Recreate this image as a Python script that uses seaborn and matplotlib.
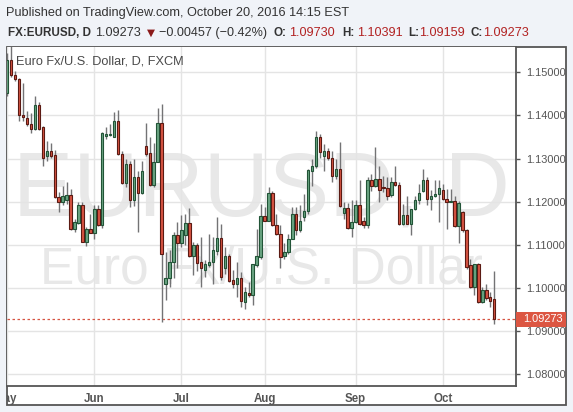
import numpy as np
import pandas as pd
import matplotlib
matplotlib.use("Agg")
import matplotlib.pyplot as plt
import matplotlib.transforms as mtransforms
from matplotlib.patches import Rectangle
import seaborn as sns

# daily EUR/USD candles (May 2 - Oct 20, 2016)
opens = [1.1453, 1.1528, 1.1493, 1.1484, 1.1400, 1.1393, 1.1380, 1.1368, 1.1424, 1.1373,
         1.1305, 1.1317, 1.1308, 1.1210, 1.1199, 1.1203, 1.1216, 1.1136, 1.1150, 1.1191,
         1.1106, 1.1136, 1.1128, 1.1183, 1.1146, 1.1353, 1.1355, 1.1351, 1.1387, 1.1310,
         1.1243, 1.1287, 1.1203, 1.1258, 1.1220, 1.1330, 1.1312, 1.1239, 1.1293, 1.1383,
         1.1008, 1.1022, 1.1060, 1.1122, 1.1104, 1.1123, 1.1151, 1.1073, 1.1099, 1.1060,
         1.1042, 1.1054, 1.1059, 1.1085, 1.1115, 1.1046, 1.1073, 1.1018, 1.1010, 1.1022,
         1.0968, 1.0989, 1.0984, 1.1052, 1.1072, 1.1167, 1.1156, 1.1220, 1.1146, 1.1126,
         1.1073, 1.1083, 1.1114, 1.1172, 1.1135, 1.1164, 1.1179, 1.1271, 1.1283, 1.1350,
         1.1305, 1.1318, 1.1301, 1.1260, 1.1276, 1.1174, 1.1186, 1.1139, 1.1152, 1.1193,
         1.1154, 1.1145, 1.1250, 1.1236, 1.1253, 1.1233, 1.1232, 1.1216, 1.1245, 1.1239,
         1.1149, 1.1170, 1.1149, 1.1183, 1.1203, 1.1224, 1.1250, 1.1206, 1.1212, 1.1218,
         1.1226, 1.1206, 1.1200, 1.1202, 1.1143, 1.1177, 1.1133, 1.1052, 1.1002, 1.1055,
         1.0966, 1.0996, 1.0978, 1.0973]
highs = [1.1545, 1.1600, 1.1503, 1.1487, 1.1476, 1.1410, 1.1406, 1.1445, 1.1430, 1.1376,
         1.1341, 1.1335, 1.1320, 1.1222, 1.1237, 1.1245, 1.1229, 1.1159, 1.1199, 1.1199,
         1.1141, 1.1172, 1.1191, 1.1191, 1.1362, 1.1372, 1.1380, 1.1409, 1.1413, 1.1318,
         1.1299, 1.1295, 1.1299, 1.1272, 1.1295, 1.1382, 1.1349, 1.1337, 1.1418, 1.1427,
         1.1083, 1.1087, 1.1129, 1.1152, 1.1168, 1.1172, 1.1186, 1.1106, 1.1103, 1.1119,
         1.1064, 1.1124, 1.1118, 1.1164, 1.1149, 1.1095, 1.1079, 1.1041, 1.1060, 1.1037,
         1.1002, 1.1014, 1.1056, 1.1137, 1.1195, 1.1187, 1.1233, 1.1225, 1.1172, 1.1145,
         1.1103, 1.1126, 1.1187, 1.1187, 1.1191, 1.1218, 1.1275, 1.1299, 1.1364, 1.1356,
         1.1333, 1.1325, 1.1318, 1.1299, 1.1339, 1.1199, 1.1197, 1.1203, 1.1203, 1.1250,
         1.1164, 1.1258, 1.1264, 1.1326, 1.1283, 1.1260, 1.1256, 1.1258, 1.1283, 1.1245,
         1.1195, 1.1212, 1.1184, 1.1212, 1.1241, 1.1276, 1.1256, 1.1226, 1.1249, 1.1249,
         1.1241, 1.1230, 1.1230, 1.1214, 1.1202, 1.1179, 1.1136, 1.1068, 1.1055, 1.1058,
         1.1002, 1.1010, 1.0991, 1.10391]
lows = [1.1445, 1.1490, 1.1480, 1.1387, 1.1387, 1.1376, 1.1359, 1.1366, 1.1366, 1.1283,
        1.1295, 1.1302, 1.1208, 1.1177, 1.1191, 1.1195, 1.1133, 1.1129, 1.1148, 1.1106,
        1.1098, 1.1127, 1.1114, 1.1143, 1.1138, 1.1345, 1.1353, 1.1351, 1.1309, 1.1241,
        1.1233, 1.1187, 1.1190, 1.1129, 1.1218, 1.1306, 1.1237, 1.1233, 1.1291, 1.0921,
        1.0972, 1.1002, 1.1022, 1.1045, 1.1095, 1.1099, 1.1072, 1.1029, 1.1040, 1.1002,
        1.1025, 1.1049, 1.1010, 1.1076, 1.1018, 1.1033, 1.1014, 1.0999, 1.0979, 1.0956,
        1.0952, 1.0979, 1.0960, 1.1048, 1.1068, 1.1156, 1.1155, 1.1144, 1.1122, 1.1045,
        1.1068, 1.1079, 1.1114, 1.1123, 1.1129, 1.1156, 1.1172, 1.1237, 1.1279, 1.1302,
        1.1272, 1.1297, 1.1245, 1.1253, 1.1187, 1.1160, 1.1137, 1.1118, 1.1150, 1.1145,
        1.1138, 1.1138, 1.1225, 1.1233, 1.1199, 1.1222, 1.1203, 1.1210, 1.1237, 1.1145,
        1.1145, 1.1147, 1.1122, 1.1181, 1.1195, 1.1222, 1.1191, 1.1180, 1.1210, 1.1152,
        1.1203, 1.1137, 1.1198, 1.1141, 1.1104, 1.1130, 1.1044, 1.1000, 1.0983, 1.0964,
        1.0964, 1.0972, 1.0956, 1.09159]
closes = [1.1528, 1.1493, 1.1484, 1.1400, 1.1396, 1.1379, 1.1368, 1.1424, 1.1368, 1.1301,
          1.1317, 1.1306, 1.1210, 1.1199, 1.1214, 1.1216, 1.1136, 1.1152, 1.1191, 1.1106,
          1.1136, 1.1128, 1.1183, 1.1145, 1.1359, 1.1358, 1.1357, 1.1387, 1.1310, 1.1243,
          1.1287, 1.1203, 1.1258, 1.1220, 1.1272, 1.1310, 1.1239, 1.1293, 1.1383, 1.1079,
          1.1022, 1.1060, 1.1122, 1.1104, 1.1133, 1.1151, 1.1073, 1.1099, 1.1058, 1.1045,
          1.1055, 1.1059, 1.1087, 1.1115, 1.1025, 1.1073, 1.1016, 1.1010, 1.1022, 1.0970,
          1.0991, 1.0984, 1.1055, 1.1073, 1.1166, 1.1156, 1.1220, 1.1146, 1.1126, 1.1072,
          1.1083, 1.1114, 1.1172, 1.1135, 1.1156, 1.1179, 1.1273, 1.1283, 1.1350, 1.1316,
          1.1318, 1.1301, 1.1260, 1.1276, 1.1189, 1.1186, 1.1139, 1.1152, 1.1193, 1.1149,
          1.1145, 1.1250, 1.1237, 1.1253, 1.1227, 1.1231, 1.1214, 1.1245, 1.1239, 1.1147,
          1.1170, 1.1149, 1.1183, 1.1204, 1.1220, 1.1250, 1.1206, 1.1214, 1.1218, 1.1232,
          1.1206, 1.1200, 1.1202, 1.1143, 1.1196, 1.1133, 1.1048, 1.1002, 1.1055, 1.0968,
          1.0996, 1.0977, 1.0970, 1.09273]

month_labels = ["May", "Jun", "Jul", "Aug", "Sep", "Oct"]
price_ticks = [1.08, 1.09, 1.10, 1.11, 1.12, 1.13, 1.14, 1.15]
last_price = 1.09273

df = pd.DataFrame({"date": pd.bdate_range("2016-05-02", "2016-10-20"),
                   "open": opens, "high": highs, "low": lows, "close": closes})
df["i"] = np.arange(len(df))
df["up"] = df["close"] >= df["open"]
df["bottom"] = df[["open", "close"]].min(axis=1)
df["height"] = (df["open"] - df["close"]).abs().clip(lower=0.00008)
month_pos = df.groupby(df["date"].dt.month)["i"].min().tolist()

sns.set_style("white")
plt.rcParams["font.family"] = ["Liberation Sans", "DejaVu Sans"]

W, H = 573, 412
def fx(px):
    return px / W
def fy(py):
    return 1 - py / H

fig = plt.figure(figsize=(5.73, 4.12), dpi=100, facecolor="#f0f3f8")

# white chart panel with its border (behind the axes)
fig.patches.append(Rectangle((fx(6.5), fy(405)), fx(566) - fx(6.5), fy(47) - fy(405),
                             transform=fig.transFigure, facecolor="white",
                             edgecolor="#555555", lw=1.3, zorder=-5))

ax = fig.add_axes([fx(6.7), fy(386), fx(516) - fx(6.7), fy(47) - fy(386)])
ax.set_zorder(2)
ax.set_facecolor("white")

# watermark
ax.text(0.5, 0.504, "EURUSD, D", transform=ax.transAxes, ha="center", va="baseline",
        fontsize=65, color="#e8e8e8", zorder=0.2)
ax.text(0.5, 0.303, "Euro Fx/U.S. Dollar", transform=ax.transAxes, ha="center",
        va="baseline", fontsize=37, color="#e8e8e8", zorder=0.2)

up = df[df["up"]]
dn = df[~df["up"]]
ax.vlines(df["i"], df["low"], df["high"], color="#737375", lw=1, zorder=2)
ax.bar(up["i"], up["height"], bottom=up["bottom"], width=0.62, color="#6ba583",
       edgecolor="#225437", lw=0.8, zorder=3)
ax.bar(dn["i"], dn["height"], bottom=dn["bottom"], width=0.62, color="#d75442",
       edgecolor="#5b1a13", lw=0.8, zorder=3)

ax.axhline(last_price, color="#d75442", lw=0.9, ls=(0, (2, 2)), zorder=1.5)

ax.set_xlim(-0.13, 128.5)
ax.set_ylim(1.07722, 1.15587)
ax.set_axisbelow(True)
ax.grid(True, color="#e4e4e4", lw=1)

ax.set_xticks(month_pos)
ax.set_xticklabels(month_labels)
ax.set_yticks(price_ticks)
ax.set_yticklabels([f"{p:.5f}" for p in price_ticks])
ax.yaxis.tick_right()
ax.tick_params(axis="x", length=3, width=1, color="#555555", labelsize=8.3,
               labelcolor="#555555", pad=2)
ax.tick_params(axis="y", length=3, width=1, color="#555555", labelsize=7.9,
               labelcolor="#555555", pad=4)
xlabs = ax.get_xticklabels()
for lab in xlabs:
    lab.set_fontweight("bold")
# the first month label is cut by the panel's left border
xlabs[0].set_transform(xlabs[0].get_transform() +
                       mtransforms.ScaledTranslation(-1.5 / 100, 0, fig.dpi_scale_trans))
xlabs[0].set_clip_on(True)
xlabs[0].set_clip_box(mtransforms.TransformedBbox(
    mtransforms.Bbox([[fx(7.2), 0], [1, 1]]), fig.transFigure))
for side in ["top", "left"]:
    ax.spines[side].set_visible(False)
for side in ["bottom", "right"]:
    ax.spines[side].set_color("#555555")
    ax.spines[side].set_linewidth(1.3)

# last price tag on the price scale
tr = mtransforms.blended_transform_factory(ax.transAxes, ax.transData)
tag_h = 0.0035
ax.add_patch(Rectangle((1.0, last_price - tag_h / 2), (566 - 516) / (516 - 6.7), tag_h,
                       transform=tr, facecolor="#dc5642", edgecolor="none",
                       clip_on=False, zorder=5))
ax.text(1.0 + 7 / (516 - 6.7), last_price, f"{last_price:.5f}", transform=tr,
        ha="left", va="center", fontsize=7.9, color="white", clip_on=False, zorder=6)

# legend inside the chart
ax.text(fx(16), fy(61), "Euro Fx/U.S. Dollar, D, FXCM", transform=fig.transFigure,
        ha="left", va="center", fontsize=9.2, color="#4a4a4a", zorder=6)

# header
fig.text(fx(5.5), fy(13), "Published on TradingView.com, October 20, 2016 14:15 EST",
         ha="left", va="center", fontsize=9.2, color="#333333")
hdr_y = fy(33)
parts = [
    (7.5, "FX:EURUSD, D", "bold", "#333333"),
    (95, "1.09273", "normal", "#333333"),
    (159, "\u22120.00457 (\u22120.42%)", "normal", "#333333"),
    (274, "O:", "bold", "#333333"),
    (289, "1.09730", "normal", "#b22222"),
    (342, "H:", "bold", "#333333"),
    (357, "1.10391", "normal", "#b22222"),
    (408, "L:", "bold", "#333333"),
    (419, "1.09159", "normal", "#b22222"),
    (470, "C:", "bold", "#333333"),
    (483, "1.09273", "normal", "#b22222"),
]
for px, s, w, c in parts:
    fig.text(fx(px), hdr_y, s, ha="left", va="center",
             fontsize=8.4 if w == "bold" else 9.1, fontweight=w, color=c)
fig.text(fx(150.5), hdr_y, "\u25bc", ha="center", va="center", fontsize=7.5,
         color="#8b1a1a", family=["DejaVu Sans"])

fig.savefig("out.png", dpi=100, facecolor=fig.get_facecolor())
